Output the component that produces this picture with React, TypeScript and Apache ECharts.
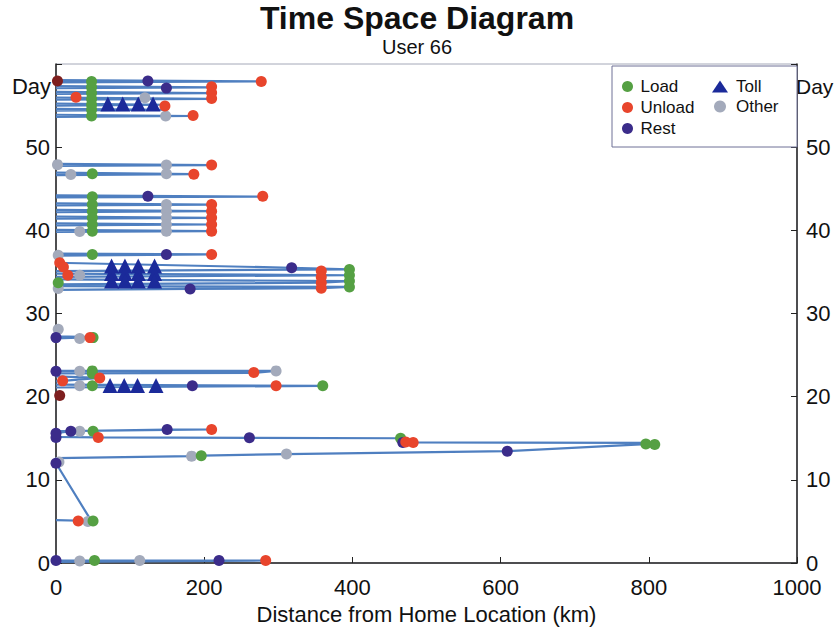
import React, { useEffect, useRef } from "react";
import * as echarts from "echarts";

// ---- data (km from home, day) ----
const titleText = "Time Space Diagram";
const subTitleText = "User 66";
const xTicks = [0, 200, 400, 600, 800, 1000];
const dayTicks = [0, 10, 20, 30, 40, 50];

// trajectories (km, day)
const routes: number[][][] = [
  [[0, 0.3], [283, 0.3], [0, 0.12]],
  [[0, 5.15], [50, 5.05], [46, 5.3], [0, 12.0]],
  [[0, 12.0], [0, 12.6], [183, 12.85], [196, 12.9], [311, 13.1], [609, 13.45], [796, 14.3], [808, 14.25], [800, 14.45], [482, 14.5], [468, 14.6], [465, 15.0], [261, 15.05], [57, 15.1], [0, 15.15]],
  [[0, 15.6], [20, 15.85], [150, 16.05], [210, 16.05], [0, 15.85]],
  [[0, 23.1], [297, 23.1], [267, 22.85], [0, 22.8]],
  [[0, 22.45], [59, 22.25], [9, 21.9], [0, 21.85]],
  [[0, 21.45], [360, 21.3], [0, 21.1]],
  [[0, 28.1], [0, 27.25], [50, 27.15], [0, 27.0]],
  [[0, 37.2], [210, 37.1], [0, 36.95]],
  [[0, 36.1], [318, 35.5], [396, 35.3], [0, 35.1]],
  [[0, 34.8], [396, 34.6], [0, 34.4]],
  [[0, 34.1], [396, 33.9], [358, 33.7], [0, 33.5]],
  [[0, 33.3], [396, 33.2], [358, 33.05], [181, 32.95], [0, 32.85]],
  [[0, 44.2], [279, 44.05], [0, 43.95]],
  [[0, 43.25], [210, 43.1], [0, 43.0]],
  [[0, 42.45], [210, 42.3], [0, 42.2]],
  [[0, 41.65], [210, 41.5], [0, 41.4]],
  [[0, 40.85], [210, 40.7], [0, 40.6]],
  [[0, 40.05], [210, 39.9], [0, 39.8]],
  [[0, 48.0], [210, 47.85], [0, 47.75]],
  [[0, 46.95], [186, 46.75], [0, 46.65]],
  [[0, 58.05], [277, 57.9], [0, 57.8]],
  [[0, 57.35], [210, 57.2], [0, 57.1]],
  [[0, 56.65], [210, 56.5], [0, 56.4]],
  [[0, 55.95], [210, 55.8], [0, 55.7]],
  [[0, 55.25], [150, 55.1], [0, 55.0]],
  [[0, 54.6], [150, 54.5], [0, 54.4]],
  [[0, 53.9], [185, 53.75], [0, 53.65]],
];

const loadPts = [
  [52, 0.3], [50, 5.05], [196, 12.9], [796, 14.3], [808, 14.25], [465, 15.0], [50, 15.85],
  [49, 23.1], [49, 22.8], [49, 21.3], [360, 21.3], [50, 27.1],
  [49, 37.1], [396, 35.3], [396, 34.6], [396, 33.9], [396, 33.2], [3, 33.7],
  [49, 44.05], [49, 43.1], [49, 42.3], [49, 41.5], [49, 40.7], [49, 39.9], [49, 46.8],
  [48, 57.9], [48, 57.2], [48, 56.5], [48, 55.8], [48, 55.1], [48, 54.5], [48, 53.75],
];
const unloadPts = [
  [283, 0.3], [30, 5.05], [482, 14.5], [472, 14.55], [57, 15.1], [210, 16.05],
  [267, 22.9], [59, 22.25], [9, 21.9], [297, 21.3], [46, 27.1],
  [210, 37.1], [5, 36.1], [10, 35.6], [16, 34.6], [358, 35.1], [358, 34.4], [358, 33.7], [358, 33.05],
  [279, 44.1], [210, 43.1], [210, 42.3], [210, 41.5], [210, 40.7], [210, 39.9],
  [210, 47.85], [186, 46.75],
  [277, 57.9], [210, 57.25], [210, 56.55], [27, 56.0], [210, 55.85], [147, 54.95], [185, 53.8],
];
const darkUnloadPts = [[2, 57.95], [5, 20.15]];
const restPts = [
  [0, 0.3], [220, 0.3], [0, 12.0], [609, 13.45], [468, 14.5], [261, 15.05], [0, 15.1],
  [0, 15.6], [20, 15.85], [150, 16.05], [0, 23.05], [184, 21.3], [0, 27.1],
  [149, 37.1], [318, 35.5], [181, 32.95], [124, 44.1], [124, 57.95], [149, 57.1],
];
const otherPts = [
  [32, 0.25], [113, 0.3], [43, 5.0], [4, 12.15], [183, 12.85], [311, 13.1], [32, 15.85],
  [32, 23.05], [297, 23.1], [32, 21.3], [3, 28.1], [32, 27.0],
  [3, 37.0], [32, 34.6], [3, 33.0],
  [149, 43.1], [149, 42.3], [149, 41.5], [149, 40.7], [149, 39.9], [32, 39.85],
  [2, 47.9], [149, 47.85], [20, 46.7], [149, 46.8], [120, 55.95], [148, 53.75],
];
const tollPts = [
  [73, 21.35], [92, 21.35], [110, 21.35], [135, 21.35],
  [75, 35.7], [93, 35.7], [111, 35.7], [133, 35.7],
  [75, 34.8], [93, 34.8], [111, 34.8], [133, 34.8],
  [75, 33.9], [93, 33.9], [111, 33.9], [133, 33.9],
  [70, 55.2], [90, 55.2], [111, 55.2], [131, 55.2],
];

const FONT = "'Liberation Sans', Arial, Helvetica, sans-serif";
const C_LOAD = "#55a043";
const C_UNLOAD = "#e8452c";
const C_DARK = "#7e1f1f";
const C_REST = "#3b2c8a";
const C_TOLL = "#1b2a9a";
const C_OTHER = "#a3aabb";
const C_LINE = "#4f7fc0";

export default function App() {
  const ref = useRef<HTMLDivElement>(null);
  useEffect(() => {
    if (!ref.current) return;
    const chart = echarts.init(ref.current, undefined, { renderer: "svg" });
    const lineSeries = routes.map((r, i) => ({
      type: "line",
      name: "route" + i,
      data: r,
      symbol: "none",
      lineStyle: { color: C_LINE, width: 2.2 },
      z: 2,
      silent: true,
    }));
    const scatter = (name: string, data: any[], color: string, symbol: string, size: number) => ({
      type: "scatter",
      name,
      data,
      symbol,
      symbolSize: size,
      itemStyle: { color, opacity: 1 },
      z: 3,
    });
    const unloadData = [
      ...unloadPts,
      ...darkUnloadPts.map((p) => ({ value: p, itemStyle: { color: C_DARK } })),
    ];
    const axisLabelStyle = { fontFamily: FONT, fontSize: 22, color: "#111" };
    chart.setOption({
      animation: false,
      backgroundColor: "#fff",
      title: {
        text: titleText,
        subtext: subTitleText,
        left: "center",
        top: 0,
        padding: [2, 5, 5, 5],
        itemGap: 3,
        textStyle: { fontFamily: FONT, fontSize: 32, fontWeight: "bold", color: "#111" },
        subtextStyle: { fontFamily: FONT, fontSize: 20, color: "#111" },
      },
      grid: {
        left: 56, right: 37, top: 64, bottom: 69,
        show: true, borderColor: "#a4a8b8", borderWidth: 1,
      },
      xAxis: {
        type: "value",
        min: xTicks[0],
        max: xTicks[xTicks.length - 1],
        interval: 200,
        name: "Distance from Home Location (km)",
        nameLocation: "middle",
        nameGap: 40,
        nameTextStyle: { fontFamily: FONT, fontSize: 22, color: "#111" },
        axisLine: { lineStyle: { color: "#222", width: 1.5 } },
        axisTick: { inside: true, length: 6, lineStyle: { color: "#222" } },
        axisLabel: { ...axisLabelStyle, margin: 13, formatter: (v: number) => String(v) },
        splitLine: { show: false },
      },
      yAxis: [0, 1].map((k) => ({
        type: "value",
        position: k === 0 ? "left" : "right",
        min: 0,
        max: 60,
        interval: 10,
        axisLine: { show: true, lineStyle: { color: "#222", width: 1.5 } },
        axisTick: { show: true, inside: true, length: 6, lineStyle: { color: "#222" } },
        axisLabel: {
          ...axisLabelStyle,
          margin: k === 0 ? 6 : 9,
          formatter: (v: number) => (dayTicks.includes(v) ? String(v) : ""),
        },
        splitLine: { show: false },
      })),
      legend: [
        {
          data: [
            { name: "Load", icon: "circle" },
            { name: "Unload", icon: "circle" },
            { name: "Rest", icon: "circle" },
          ],
          orient: "vertical",
          left: 617,
          top: 73,
          z: 20,
          itemWidth: 16,
          itemHeight: 11,
          itemGap: 4,
          textStyle: { fontFamily: FONT, fontSize: 17, color: "#111" },
        },
        {
          data: [
            { name: "Toll", icon: "triangle" },
            { name: "Other", icon: "circle" },
          ],
          orient: "vertical",
          left: 707,
          top: 73,
          z: 20,
          itemWidth: 16,
          itemHeight: 12,
          itemGap: 3,
          textStyle: { fontFamily: FONT, fontSize: 17, color: "#111", padding: [0, 0, 0, 3] },
        },
      ],
      graphic: [
        {
          type: "rect",
          shape: { x: 612, y: 66, width: 185, height: 81 },
          style: { fill: "#fff", stroke: "#6f7196", lineWidth: 1 },
          z: 1,
          silent: true,
        },
        {
          type: "text",
          x: 51,
          y: 86,
          style: { text: "Day", font: `22px ${FONT}`, fill: "#111", align: "right", verticalAlign: "middle" },
        },
        {
          type: "text",
          x: 796,
          y: 86,
          style: { text: "Day", font: `21px ${FONT}`, fill: "#111", align: "left", verticalAlign: "middle" },
        },
      ],
      series: [
        ...lineSeries,
        scatter("Other", otherPts, C_OTHER, "circle", 11),
        scatter("Load", loadPts, C_LOAD, "circle", 11),
        scatter("Rest", restPts, C_REST, "circle", 11),
        scatter("Unload", unloadData, C_UNLOAD, "circle", 11),
        scatter("Toll", tollPts, C_TOLL, "triangle", 15),
      ],
    });
    return () => chart.dispose();
  }, []);
  return (
    <div
      ref={ref}
      style={{ position: "absolute", left: 0, top: 0, width: 834, height: 632 }}
    />
  );
}
